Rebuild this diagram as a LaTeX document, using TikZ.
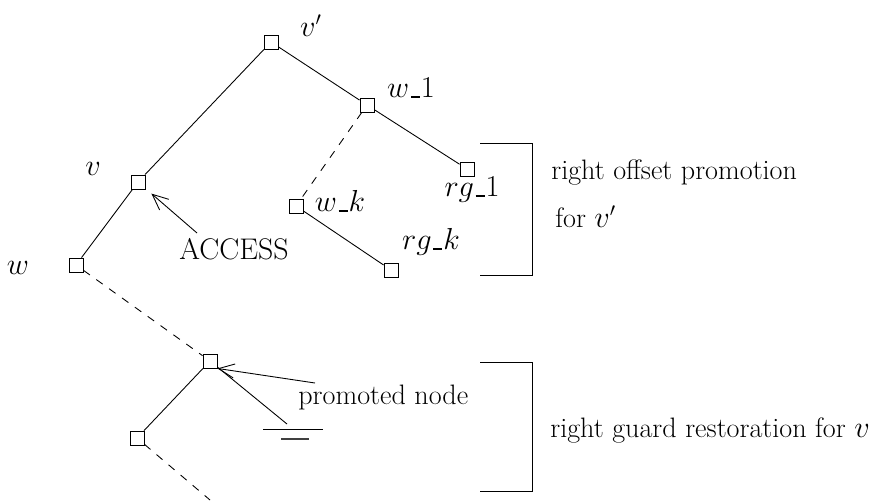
\documentclass[tikz,border=0pt]{standalone}
\usetikzlibrary{arrows.meta}
\newcommand{\usc}{\mbox{\kern.06em\vbox{\hrule width.32em height 1.1pt}\kern.03em}}
\begin{document}
\begin{tikzpicture}[x=0.02cm,y=-0.02cm,
    box/.style={draw,minimum size=0.28cm,inner sep=0pt,line width=0.5pt},
    lbl/.style={inner sep=0pt,font=\fontsize{16}{19}\selectfont},
    link/.style={line width=0.5pt},
    dlink/.style={line width=0.5pt,dash pattern=on 4.5pt off 4.5pt},
    >={Straight Barb[length=9pt,width=8pt]}]
    \useasboundingbox (0,0) rectangle (881,500);

    % upper tree
    \node[box] (vp) at (271,42) {};
    \node[box] (w1) at (367,105) {};
    \node[box] (v) at (138,182) {};
    \node[box] (wk) at (296,206) {};
    \node[box] (rgk) at (391,270) {};
    \node[box] (w) at (76,265) {};
    \node[box] (rg1) at (467,169) {};

    \node[lbl] (vpl) at (311,26) {$v'$};
    \node[lbl] (w1l) at (411,88) {$w\usc 1$};
    \node[lbl] (vl) at (93,169) {$v$};
    \node[lbl] (wkl) at (340,201) {$w\usc k$};
    \node[lbl] (rgkl) at (431,242) {$rg\usc k$};
    \node[lbl] (wl) at (18,268) {$w$};
    \node[lbl] (rg1l) at (472,190) {$rg\usc 1$};
    \node[lbl,font=\fontsize{17}{20}\selectfont] (acc) at (234,249) {ACCESS};

    \draw[link] (vp) -- (v);
    \draw[link] (v) -- (w);
    \draw[link] (vp) -- (w1);
    \draw[link] (w1) -- (rg1);
    \draw[link] (wk) -- (rgk);
    \draw[dlink] (w1) -- (wk);

    \coordinate (accs) at (197,233);
    \draw[link,->,shorten >=4.5pt] (accs) -- (v);

    % lower tree
    \node[box] (pn) at (210,361) {};
    \node[box] (ll) at (137,438) {};
    \node[lbl,anchor=west] (pnl) at (298,397) {promoted node};

    \draw[dlink] (w) -- (pn);
    \draw[link] (pn) -- (ll);
    \coordinate (lle) at (210,500);
    \draw[dlink] (ll) -- (lle);

    \coordinate (pns) at (315,383);
    \draw[link,->] (pns) -- (pn.south east);

    % ground
    \coordinate (gnd) at (287,424);
    \draw[link] (pn) -- (gnd);
    \draw[link] (263,429) -- (323,429);
    \draw[line width=0.8pt,black!75] (281,439) -- (309,439);

    % brackets
    \draw[link] (480,143) -- (532,143) -- (532,275) -- (480,275);
    \draw[link] (480,362) -- (532,362) -- (532,491) -- (480,491);

    \node[lbl,anchor=west] (rop) at (551,172) {right offset promotion};
    \node[lbl,anchor=west] (forv) at (555,217) {for $v'$};
    \node[lbl,anchor=west] (rgr) at (550,430) {right guard restoration for $v$};
\end{tikzpicture}
\end{document}
